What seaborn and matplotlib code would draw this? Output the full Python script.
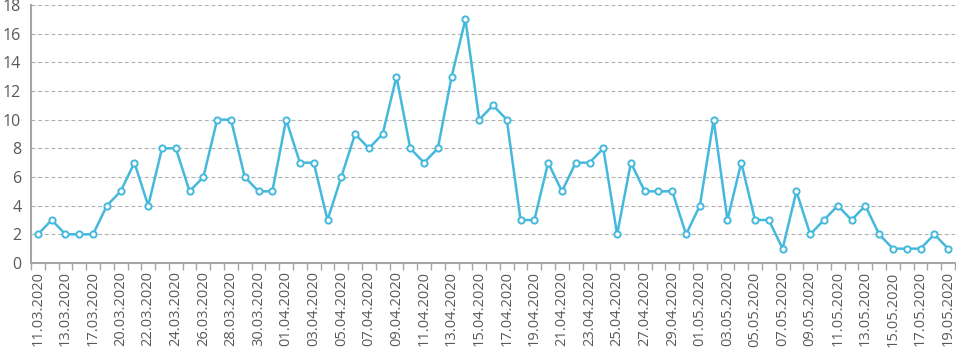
import matplotlib
matplotlib.use("Agg")
import matplotlib.pyplot as plt
import seaborn as sns
import numpy as np
import pandas as pd

tick_labels = ["11.03.2020", "13.03.2020", "17.03.2020", "20.03.2020", "22.03.2020",
               "24.03.2020", "26.03.2020", "28.03.2020", "30.03.2020", "01.04.2020",
               "03.04.2020", "05.04.2020", "07.04.2020", "09.04.2020", "11.04.2020",
               "13.04.2020", "15.04.2020", "17.04.2020", "19.04.2020", "21.04.2020",
               "23.04.2020", "25.04.2020", "27.04.2020", "29.04.2020", "01.05.2020",
               "03.05.2020", "05.05.2020", "07.05.2020", "09.05.2020", "11.05.2020",
               "13.05.2020", "15.05.2020", "17.05.2020", "19.05.2020"]

values = [2, 3, 2, 2, 2, 4, 5, 7, 4, 8, 8, 5, 6, 10, 10, 6, 5, 5, 10, 7,
          7, 3, 6, 9, 8, 9, 13, 8, 7, 8, 13, 17, 10, 11, 10, 3, 3, 7, 5, 7,
          7, 8, 2, 7, 5, 5, 5, 2, 4, 10, 3, 7, 3, 3, 1, 5, 2, 3, 4, 3,
          4, 2, 1, 1, 1, 2, 1]

y_ticks = list(range(0, 19, 2))

line_color = "#45B9DD"
axis_color = "#A6A6A6"
text_color = "#595959"

sns.set_theme(style="white")
plt.rcParams["font.family"] = ["Open Sans", "DejaVu Sans"]

df = pd.DataFrame({"pos": np.arange(len(values)), "value": values})

fig = plt.figure(figsize=(9.56, 3.5), dpi=100)
ax = fig.add_axes([31 / 956, 1 - 263 / 350, 924 / 956, 258 / 350])

sns.lineplot(data=df, x="pos", y="value", ax=ax, color=line_color, linewidth=1.8,
             marker="o", markersize=4.5, markerfacecolor="white",
             markeredgecolor=line_color, markeredgewidth=1.4, zorder=3)

n = len(values)
ax.set_xlim(-0.5, n - 0.5)
ax.set_ylim(0, 18)
ax.set_yticks(y_ticks)
ax.set_yticklabels([str(v) for v in y_ticks])
ax.set_xticks(np.arange(0, n, 2))
ax.set_xticklabels(tick_labels, rotation=90)
ax.set_xticks(np.arange(-0.5, n, 1), minor=True)
ax.tick_params(axis="x", which="major", length=0, pad=6, labelsize=10.5, colors=text_color)
ax.tick_params(axis="x", which="minor", length=5, width=1, color=axis_color, direction="out", bottom=True)
ax.tick_params(axis="y", which="major", length=0, pad=7, labelsize=11.5, colors=text_color)
ax.set_xlabel("")
ax.set_ylabel("")

ax.yaxis.grid(True, color="#B0B0B0", linestyle=(0, (3.5, 2.5)), linewidth=0.8)
ax.xaxis.grid(False)
for s in ["top", "right"]:
    ax.spines[s].set_visible(False)
for s in ["left", "bottom"]:
    ax.spines[s].set_color(axis_color)
    ax.spines[s].set_linewidth(1.5)

fig.savefig("out.png", dpi=100)
